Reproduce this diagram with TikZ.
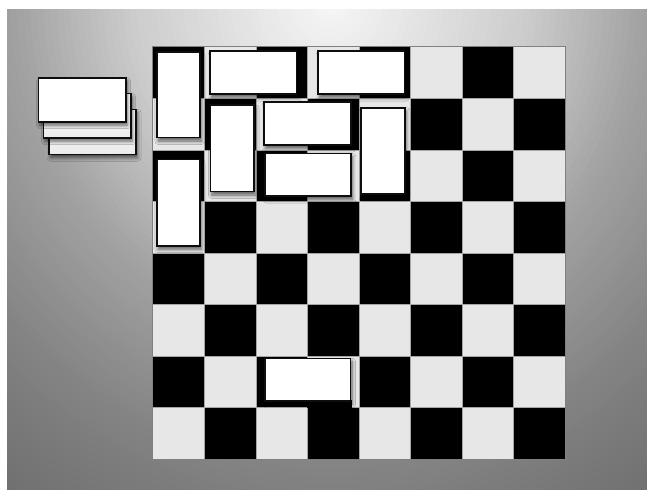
\documentclass[tikz,border=0pt]{standalone}
\usetikzlibrary{shadows.blur}
\definecolor{bgE}{gray}{0.42}
\definecolor{cellL}{gray}{0.905}
\definecolor{edgeG}{gray}{0.5}
\tikzset{
  face/.style={fill=white, draw=black!95, line width=1.6pt,
    blur shadow={shadow xshift=1.5pt, shadow yshift=-3.5pt, shadow blur radius=3.5pt, shadow opacity=60, shadow blur steps=6}},
  stackface/.style={top color=white, bottom color=black!8, draw=black!95, line width=1.6pt,
    blur shadow={shadow xshift=1.5pt, shadow yshift=-3.5pt, shadow blur radius=3.5pt, shadow opacity=60, shadow blur steps=6}},
  backing/.style={fill=black},
  darkcell/.style={fill=black},
  lightcell/.style={fill=cellL},
}
\begin{document}
\begin{tikzpicture}[x=1pt,y=-1pt]
\useasboundingbox (0,0) rectangle (647,490);
\fill[white] (0,0) rectangle (647,490);
% background
\begin{scope}
  \clip (7,9) rectangle (647,489);
  \fill[bgE] (7,9) rectangle (647,489);
  \foreach \i in {90,89,...,1}{
    \pgfmathsetmacro{\f}{\i/90}
    \pgfmathsetmacro{\g}{\f<0.334 ? 0.97-0.509*\f : (\f<0.534 ? 0.80-0.85*(\f-0.334) : (\f<0.75 ? 0.63-0.556*(\f-0.534) : 0.51-0.36*(\f-0.75)))}
    \definecolor{bgtmp}{gray}{\g}
    \fill[bgtmp] (330,0) ellipse [x radius={\f*600pt}, y radius={\f*640pt}];
  }
\end{scope}
% board
\def\bx{152.6}\def\by{46.7}\def\cs{51.55}
\foreach \r in {0,...,7}{
  \foreach \c in {0,...,7}{
    \pgfmathtruncatemacro{\cpar}{mod(\r+\c,2)}
    \ifnum\cpar=0
      \fill[darkcell] ({\bx+\c*\cs},{\by+\r*\cs}) rectangle ++(\cs,\cs);
    \else
      \fill[lightcell] ({\bx+\c*\cs},{\by+\r*\cs}) rectangle ++(\cs,\cs);
    \fi
  }
}
\foreach \i in {1,...,7}{
  \draw[gray!70, line width=0.4pt] ({\bx+\i*\cs},\by) -- ({\bx+\i*\cs},{\by+8*\cs});
  \draw[gray!70, line width=0.4pt] (\bx,{\by+\i*\cs}) -- ({\bx+8*\cs},{\by+\i*\cs});
}
\draw[edgeG, line width=1pt] (\bx,\by) rectangle ({\bx+8*\cs},{\by+8*\cs});
% dark edge under the lower domino
\fill[backing] (307.3,400) rectangle (351.7,408.4);
% dominoes on the board
\draw[face] (156.8,51.7) rectangle (200,137.5);
\draw[face] (210.2,51) rectangle (296.6,94.2);
\draw[face] (318.2,51) rectangle (404.3,94.2);
\draw[face] (210.4,105) rectangle (254.2,191.5);
\draw[face] (264,101.7) rectangle (350.8,145.2);
\draw[face] (265,153.3) rectangle (350.9,196.2);
\draw[face] (361.1,107.7) rectangle (405,194.1);
\draw[face] (156.8,159.3) rectangle (200,245.7);
\draw[face] (264.8,358.3) rectangle (350.6,400.8);
% stack at the left
\draw[stackface] (49,109.3) rectangle (136,154.3);
\draw[stackface] (43.5,93.5) rectangle (130.7,137.7);
\draw[face] (38.3,77.7) rectangle (125.7,121.7);
\end{tikzpicture}
\end{document}
